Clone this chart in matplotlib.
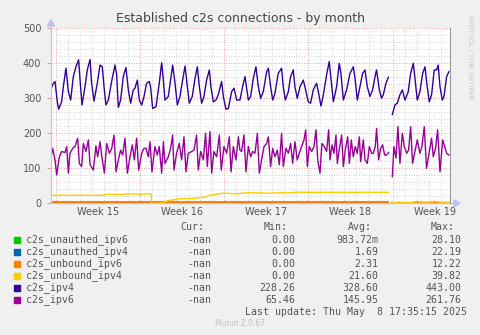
import numpy as np
import matplotlib.pyplot as plt
from matplotlib.patches import Rectangle, Polygon

# time axis: days since Mon 2025-04-07 00:00 (start of week 15)
ipv4_t = [-0.37, -0.18, -0.04, 0.15, 0.26, 0.51, 0.65, 0.87, 1.07, 1.26, 1.48, 1.70, 1.92, 2.03,
          2.20, 2.45, 2.64, 2.87, 3.00, 3.20, 3.47, 3.70, 3.89, 4.03, 4.19, 4.39, 4.66, 4.94,
          5.08, 5.22, 5.41, 5.63, 5.85, 6.05, 6.24, 6.46, 6.60, 6.80, 6.96, 7.16, 7.35, 7.57,
          7.79, 7.90, 8.07, 8.35, 8.62, 8.82, 8.96, 9.09, 9.37, 9.56, 9.73, 9.93, 10.12, 10.34,
          10.56, 10.76, 10.95, 11.11, 11.36, 11.59, 11.78, 11.95, 12.14, 12.33, 12.55, 12.78,
          12.91, 13.11, 13.33, 13.52, 13.80, 13.94, 14.16, 14.36, 14.63, 14.83, 15.05, 15.32,
          15.54, 15.74, 15.88, 16.02, 16.21, 16.43, 16.65, 16.85, 17.04, 17.26, 17.54, 17.68,
          17.87, 18.04, 18.23, 18.50, 18.78, 18.92, 19.09, 19.34, 19.53, 19.75, 19.89, 20.08,
          20.31, 20.58, 20.72, 21.00, 21.19, 21.41, 21.69, 21.83, 22.05, 22.25, 22.52, 22.74,
          22.88, 23.08, 23.35, 23.57, 23.71, 23.91, 24.18, 24.46, 24.74, 24.88, 25.07, 25.29,
          25.51, 25.71, 25.90, 26.12, 26.34, 26.54, 26.67, 26.90, 27.09, 27.23, 27.45, 27.65,
          27.80,
          27.98, 28.20, 28.39, 28.61, 28.81, 29.03, 29.30, 29.50, 29.72, 29.86, 30.05, 30.27,
          30.50, 30.69, 30.88, 31.05, 31.24, 31.46, 31.66, 31.79, 31.94, 32.13, 32.27, 32.49,
          32.68]
ipv4_v = [327, 343, 348, 290, 269, 290, 333, 386, 319, 295, 362, 390, 410, 357,
          281, 333, 381, 411, 343, 292, 343, 395, 390, 333, 281, 295, 348, 395,
          367, 274, 295, 362, 388, 324, 286, 324, 329, 352, 295, 281, 305, 343,
          348, 333, 271, 276, 343, 402, 352, 295, 305, 352, 395, 343, 281, 305,
          352, 392, 333, 286, 305, 357, 390, 333, 286, 305, 352, 381,
          333, 290, 295, 310, 348, 305, 269, 271, 319, 329, 295, 295,
          333, 362, 329, 295, 305, 357, 390, 333, 300, 319, 376, 386,
          333, 295, 314, 371, 386, 333, 295, 319, 362, 381, 333, 300,
          333, 352, 333, 290, 286, 324, 343, 319, 278, 310, 367, 405,
          357, 290, 333, 400, 371, 295, 324, 371, 390, 357, 295, 333,
          371, 381, 333, 305, 324, 362, 381, 324, 300, 310, 343, 360,
          np.nan,
          254, 281, 286, 310, 324, 295, 319, 371, 400, 357, 295, 319,
          371, 390, 333, 290, 310, 381, 381, 395, 333, 295, 305, 362,
          376]

ipv6_t = [-0.37, -0.24, -0.04, 0.10, 0.32, 0.51, 0.79, 0.93, 1.07, 1.20, 1.43, 1.62, 1.84, 1.98,
          2.17, 2.31, 2.53, 2.73, 2.87, 3.14, 3.36, 3.50, 3.70, 3.83, 4.06, 4.25, 4.48, 4.67,
          4.86, 5.03, 5.22, 5.41, 5.58, 5.77, 5.97, 6.19, 6.38, 6.55, 6.74, 6.91, 7.16, 7.35,
          7.52, 7.71, 7.85, 8.01, 8.26, 8.45, 8.62, 8.82, 8.96, 9.09, 9.37, 9.56, 9.73, 9.84,
          10.06, 10.28, 10.48, 10.67, 10.84, 11.03, 11.31, 11.50, 11.72, 11.86, 12.06, 12.28,
          12.47, 12.61, 12.83, 12.97, 13.16, 13.39, 13.61, 13.77, 13.99, 14.22, 14.44, 14.58,
          14.77, 14.99, 15.19, 15.32, 15.46, 15.65, 15.82, 16.02, 16.21, 16.38, 16.57, 16.77,
          16.93, 17.12, 17.32, 17.54, 17.68, 17.87, 18.04, 18.23, 18.42, 18.59, 18.78, 18.92,
          19.14, 19.34, 19.53, 19.70, 19.89, 20.08, 20.25, 20.44, 20.64, 20.78, 20.92, 21.08,
          21.28, 21.47, 21.64, 21.78, 21.97, 22.13, 22.33, 22.52, 22.69, 22.80, 22.97, 23.13,
          23.30, 23.41, 23.63, 23.77, 23.91, 24.07, 24.27, 24.41, 24.57, 24.74, 24.90, 25.07,
          25.24, 25.35, 25.57, 25.71, 25.90, 26.07, 26.26, 26.40, 26.56, 26.67, 26.84, 27.01,
          27.17, 27.34, 27.50, 27.67,
          27.80,
          27.98, 28.11, 28.28, 28.44, 28.61, 28.81, 28.97, 29.17, 29.33, 29.50, 29.66, 29.86,
          30.05, 30.27, 30.44, 30.63, 30.82, 31.05, 31.24, 31.38, 31.57, 31.74, 31.94, 32.16,
          32.33, 32.49, 32.68]
ipv6_v = [133, 157, 124, 81, 133, 148, 145, 162, 86, 143, 157, 162, 186, 114,
          105, 171, 148, 181, 110, 95, 164, 133, 176, 138, 86, 171, 143, 157,
          195, 90, 124, 152, 138, 186, 86, 133, 167, 124, 186, 95, 143, 157,
          157, 133, 176, 90, 162, 138, 162, 86, 176, 114, 133, 157, 195, 95,
          143, 171, 124, 190, 90, 143, 148, 152, 195, 95, 148, 124,
          200, 105, 205, 86, 148, 133, 195, 95, 162, 143, 190, 90,
          162, 124, 190, 152, 148, 195, 90, 162, 133, 148, 143, 200,
          86, 124, 162, 171, 190, 105, 157, 133, 152, 110, 200, 105,
          157, 143, 171, 114, 176, 124, 143, 162, 181, 210, 105, 162,
          148, 162, 210, 124, 86, 171, 162, 148, 210, 124, 167, 143,
          195, 114, 167, 195, 105, 152, 190, 114, 181, 133, 162, 143,
          190, 119, 181, 124, 114, 162, 143, 143, 162, 214, 124, 157,
          167, 138, 138, 145,
          np.nan,
          76, 162, 129, 219, 114, 200, 162, 143, 152, 219, 114, 148,
          181, 143, 162, 219, 100, 148, 186, 133, 157, 210, 90, 181,
          162, 143, 138]

unbound4_t = [-0.37, 2.0, 4.0, 4.2, 5.5, 6.0, 7.0, 7.5, 7.95, 8.0, 8.6, 9.0, 9.35, 9.8, 10.2,
              11.3, 12.0, 12.4, 12.8, 13.3, 13.8, 14.5, 15.2, 15.7, 16.6, 17.5, 18.5,
              19.5, 20.05, 20.6, 22.0, 24.0, 26.0, 27.65, 27.80,
              27.98, 28.5, 29.5, 30.0, 31.0, 31.5, 32.0, 32.77]
unbound4_v = [23, 23, 23, 26, 25, 27, 26, 27, 27, 0, 0, 3, 8, 10, 13,
              14, 16, 18, 23, 25, 29, 28, 27, 30, 30, 29, 30,
              30, 32, 31.5, 31.5, 31.5, 31.5, 31.5, np.nan,
              2, 3, 2, 5, 3, 6, 3, 3]

unbound6_t = [-0.37, 27.65, 27.80, 27.98, 32.77]
unbound6_v = [2.3, 2.3, np.nan, 1.0, 1.0]

unauth4_t = [-0.37, 4.7, 4.8, 4.9, 6.9, 7.0, 7.4, 7.5, 7.9, 8.0, 27.65, 27.80,
             27.98, 28.4, 28.5, 28.6, 31.0, 31.1, 31.2, 32.77]
unauth4_v = [0, 0, 4, 0, 0, 5, 5, 0, 4, 0, 0, np.nan,
             0, 0, 3, 0, 0, 4, 0, 0]

unauth6_t = [-0.37, 10.1, 10.2, 10.3, 27.65, 27.80, 27.98, 32.77]
unauth6_v = [0, 0, 3, 0, 0, np.nan, 0, 0]

week_starts = [0, 7, 14, 21, 28]
week_labels = ['Week 15', 'Week 16', 'Week 17', 'Week 18', 'Week 19']

legend_names = ['c2s_unauthed_ipv6', 'c2s_unauthed_ipv4', 'c2s_unbound_ipv6',
                'c2s_unbound_ipv4', 'c2s_ipv4', 'c2s_ipv6']
legend_colors = ['#00CC00', '#0066B3', '#FF8000', '#FFCC00', '#330099', '#990099']
cur_vals = ['-nan'] * 6
min_vals = ['0.00', '0.00', '0.00', '0.00', '228.26', '65.46']
avg_vals = ['983.72m', '1.69', '2.31', '21.60', '328.60', '145.95']
max_vals = ['28.10', '22.19', '12.22', '39.82', '443.00', '261.76']

W, H = 481, 335
BG = '#F0F0F0'
TXT = '#555555'

fig = plt.figure(figsize=(W / 100, H / 100), dpi=100, facecolor=BG)

# plot area in pixels: x 51..450, y 28.3..203.3
ax = fig.add_axes([51 / W, 1 - 203.3 / H, (450 - 51) / W, (203.3 - 28.3) / H])
ax.set_facecolor('white')
ax.set_xlim(-0.374, 32.77)
ax.set_ylim(0, 500)

# grid: daily / weekly on x, 20 / 100 on y
for d in range(0, 33):
    if d not in week_starts:
        ax.axvline(d, color='#C8C8C8', lw=0.6, dashes=(1, 2), zorder=1)
for y in range(20, 500, 20):
    if y % 100:
        ax.axhline(y, color='#C8C8C8', lw=0.6, dashes=(1, 2), zorder=1)
for d in week_starts:
    ax.axvline(d, color='#F08080', lw=0.6, dashes=(1, 2), zorder=1)
for y in range(100, 501, 100):
    ax.axhline(y, color='#F08080', lw=0.6, dashes=(1, 2), zorder=1, clip_on=False)

series = [(unauth6_t, unauth6_v), (unauth4_t, unauth4_v), (unbound6_t, unbound6_v),
          (unbound4_t, unbound4_v), (ipv4_t, ipv4_v), (ipv6_t, ipv6_v)]
widths = [0.9, 0.9, 1.5, 1.0, 1.0, 1.0]
for (t, v), c, lw in zip(series, legend_colors, widths):
    ax.plot(t, v, color=c, lw=lw, zorder=3, solid_joinstyle='round')

# axes frame
for s in ['top', 'left', 'bottom', 'right']:
    ax.spines[s].set_visible(False)
axis_col = '#BCC2EE'
ax.plot([0, 0], [0, 1.04], transform=ax.transAxes, color=axis_col, lw=0.8, clip_on=False, zorder=4)
ax.plot([0, 1.01], [0, 0], transform=ax.transAxes, color=axis_col, lw=0.8, clip_on=False, zorder=4)
ax.plot([1, 1], [0, 1], transform=ax.transAxes, color='#999999', lw=0.8, clip_on=False, zorder=4)
# arrow heads
x0, y0 = 51 / W, 1 - 203.3 / H
fig.patches.append(Polygon([[x0 - 3.5 / W, 1 - 26 / H], [x0 + 3.5 / W, 1 - 26 / H], [x0, 1 - 20 / H]],
                           closed=True, transform=fig.transFigure, color=axis_col))
fig.patches.append(Polygon([[454 / W, y0 + 3.5 / H], [454 / W, y0 - 3.5 / H], [460 / W, y0]],
                           closed=True, transform=fig.transFigure, color=axis_col))

ax.set_xticks([])
ax.set_yticks(range(0, 501, 100))
ax.tick_params(axis='y', length=3, width=0.6, color='#F08080', pad=4, labelsize=7, labelcolor=TXT)
for i, lab in enumerate(week_labels):
    ax.text(week_starts[i] + 3.5, -0.05, lab, transform=ax.get_xaxis_transform(),
            ha='center', va='center', fontsize=7, color=TXT)

fig.text(240.5 / W, 1 - 18.5 / H, 'Established c2s connections - by month',
         ha='center', va='center', fontsize=9, color='#444444')
fig.text(470 / W, 1 - 14 / H, 'RRDTOOL / TOBI OETIKER', rotation=-90, ha='center', va='top',
         fontsize=4.8, color='#C8C8C8')

# legend block
mono = dict(family='DejaVu Sans Mono', fontsize=7.1, color=TXT, va='center')
hy = 1 - 227.3 / H
for txt, xr in [('Cur:', 204.5), ('Min:', 288), ('Avg:', 371.5), ('Max:', 454.5)]:
    fig.text(xr / W, hy, txt, ha='right', **mono)
for i, name in enumerate(legend_names):
    ry = 240 + i * 11.95
    fy = 1 - ry / H
    fig.patches.append(Rectangle((14 / W, 1 - (ry + 3) / H), 6 / W, 6 / H,
                                 transform=fig.transFigure, color=legend_colors[i]))
    fig.text(26 / W, fy, name, ha='left', **mono)
    fig.text(211.5 / W, fy, cur_vals[i], ha='right', **mono)
    fig.text(295 / W, fy, min_vals[i], ha='right', **mono)
    fig.text(378.5 / W, fy, avg_vals[i], ha='right', **mono)
    fig.text(461.5 / W, fy, max_vals[i], ha='right', **mono)
fig.text(467 / W, 1 - 311.7 / H, 'Last update: Thu May  8 17:35:15 2025', ha='right', **mono)
fig.text(240 / W, 1 - 323.5 / H, 'Munin 2.0.67', ha='center', va='center', fontsize=5.5, color='#C0C0C0')

fig.savefig('out.png', dpi=100, facecolor=BG)
